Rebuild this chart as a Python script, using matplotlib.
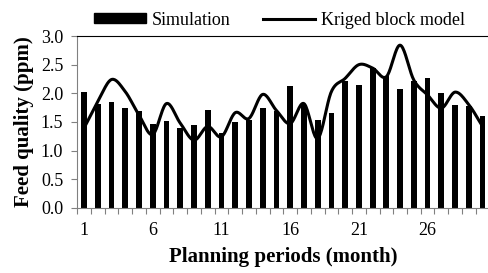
import numpy as np
import matplotlib
matplotlib.use("Agg")
import matplotlib.pyplot as plt
from matplotlib.lines import Line2D
from matplotlib.patches import Patch

periods = list(range(1, 31))
simulation = [2.02, 1.82, 1.85, 1.74, 1.69, 1.47, 1.52, 1.40, 1.44, 1.71,
              1.30, 1.49, 1.53, 1.74, 1.69, 2.13, 1.80, 1.53, 1.65, 2.22,
              2.14, 2.44, 2.30, 2.08, 2.22, 2.27, 2.01, 1.80, 1.78, 1.60]
kriged = [1.39, 1.85, 2.24, 2.03, 1.62, 1.28, 1.82, 1.48, 1.18, 1.42,
          1.24, 1.66, 1.56, 1.98, 1.70, 1.47, 1.82, 1.21, 2.03, 2.26,
          2.50, 2.44, 2.29, 2.84, 2.23, 1.97, 1.74, 2.02, 1.80, 1.42]
tick_labels = ["1", "6", "11", "16", "21", "26"]

plt.rcParams['font.family'] = ['Liberation Serif', 'DejaVu Serif']

fig = plt.figure(figsize=(4.88, 2.73), dpi=100)
ax = fig.add_axes([0.158, 0.239, 0.845, 0.629])

x = np.arange(len(periods))
ax.bar(x, simulation, width=0.42, color='black', zorder=2)


def catmull_rom(xs, ys, n=20):
    xs = np.asarray(xs, float); ys = np.asarray(ys, float)
    px = np.concatenate([[2 * xs[0] - xs[1]], xs, [2 * xs[-1] - xs[-2]]])
    py = np.concatenate([[2 * ys[0] - ys[1]], ys, [2 * ys[-1] - ys[-2]]])
    ox, oy = [], []
    for i in range(1, len(px) - 2):
        t = np.linspace(0, 1, n, endpoint=False)
        for arr, out in ((px, ox), (py, oy)):
            p0, p1, p2, p3 = arr[i - 1], arr[i], arr[i + 1], arr[i + 2]
            out.extend(0.5 * ((2 * p1) + (-p0 + p2) * t +
                              (2 * p0 - 5 * p1 + 4 * p2 - p3) * t ** 2 +
                              (-p0 + 3 * p1 - 3 * p2 + p3) * t ** 3))
    ox.append(xs[-1]); oy.append(ys[-1])
    return np.array(ox), np.array(oy)


sx, sy = catmull_rom(x, kriged)
ax.plot(sx, sy, color='black', lw=2.2, zorder=3, solid_capstyle='round')

ax.set_xlim(-0.5, len(periods) - 0.5)
ax.set_ylim(0, 3.0)
yt = np.arange(0, 3.01, 0.5)
ax.set_yticks(yt)
ax.set_yticklabels([f"{v:.1f}" for v in yt])

ax.set_xticks(np.arange(-0.5, len(periods), 1.0))
ax.set_xticklabels([])
ax.set_xticks([periods.index(int(t)) for t in tick_labels], minor=True)
ax.set_xticklabels(tick_labels, minor=True)
ax.tick_params(axis='x', which='minor', length=0, pad=10, labelsize=13)
ax.tick_params(axis='x', which='major', length=4, color='#808080', direction='out')
ax.tick_params(axis='y', length=4, color='#808080', direction='out', labelsize=13, pad=6)

for s in ['left', 'bottom']:
    ax.spines[s].set_color('#808080')
ax.spines['top'].set_color('black')
ax.spines['right'].set_visible(False)

ax.set_xlabel("Planning periods (month)", fontsize=15, fontweight='bold', labelpad=6)
ax.set_ylabel("Feed quality (ppm)", fontsize=15, fontweight='bold', labelpad=5)

handles = [Patch(facecolor='black', edgecolor='black'),
           Line2D([0], [0], color='black', lw=2.2)]
ax.legend(handles, ["Simulation", "Kriged block model"], ncol=2, frameon=False,
          loc='center', bbox_to_anchor=(0.49, 1.093), fontsize=13,
          handlelength=2.9, handleheight=0.45, handletextpad=0.3, columnspacing=1.8,
          borderaxespad=0.0, borderpad=0.0)

fig.savefig("out.png", dpi=100)
